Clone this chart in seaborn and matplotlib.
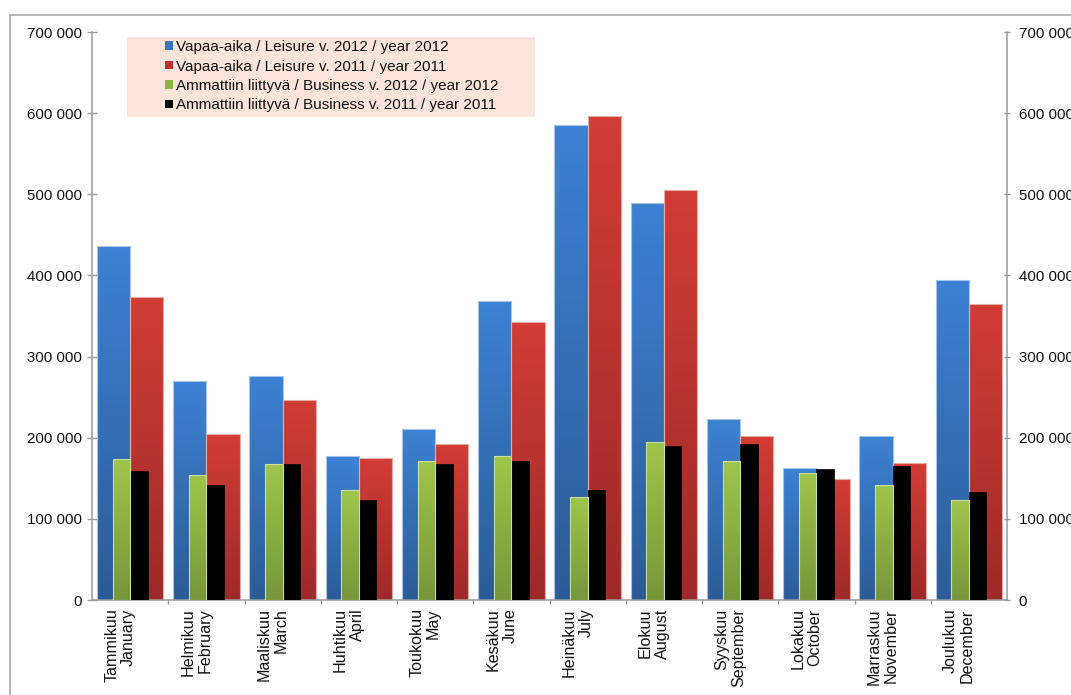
import numpy as np
import pandas as pd
import matplotlib
matplotlib.use("Agg")
import matplotlib.pyplot as plt
import matplotlib.transforms as mtransforms
from matplotlib.colors import LinearSegmentedColormap
from matplotlib.patches import Patch, Rectangle
from matplotlib.ticker import FuncFormatter, FixedLocator
import seaborn as sns

# Monthly travel nights, leisure vs business, 2012 and 2011
months = ["Tammikuu\nJanuary", "Helmikuu\nFebruary", "Maaliskuu\nMarch", "Huhtikuu\nApril",
          "Toukokuu\nMay", "Kesäkuu\nJune", "Heinäkuu\nJuly", "Elokuu\nAugust",
          "Syyskuu\nSeptember", "Lokakuu\nOctober", "Marraskuu\nNovember", "Joulukuu\nDecember"]
leisure_2012 = [436000, 270000, 276000, 177000, 211000, 368000, 585000, 489000, 223000, 163000, 202000, 394000]
leisure_2011 = [373000, 204000, 246000, 175000, 192000, 343000, 596000, 505000, 202000, 149000, 169000, 365000]
business_2012 = [174000, 154000, 167000, 135000, 171000, 177000, 127000, 195000, 171000, 156000, 142000, 123000]
business_2011 = [159000, 142000, 167000, 123000, 167000, 171000, 135000, 190000, 192000, 161000, 165000, 133000]

series_labels = ["Vapaa-aika / Leisure v. 2012 / year 2012",
                 "Vapaa-aika / Leisure v. 2011 / year 2011",
                 "Ammattiin liittyvä / Business v. 2012 / year 2012",
                 "Ammattiin liittyvä / Business v. 2011 / year 2011"]

leisure = pd.DataFrame({
    "month": months * 2,
    "value": leisure_2012 + leisure_2011,
    "series": [series_labels[0]] * 12 + [series_labels[1]] * 12,
})
business = pd.DataFrame({
    "month": months * 2,
    "value": business_2012 + business_2011,
    "series": [series_labels[2]] * 12 + [series_labels[3]] * 12,
})

sns.set_style("white")
plt.rcParams["font.family"] = ["Liberation Sans", "DejaVu Sans"]
plt.rcParams["font.size"] = 10.5

fig = plt.figure(figsize=(10.71, 6.95), dpi=100)
ax = fig.add_axes([92 / 1071, 1 - 600 / 695, 915 / 1071, 568 / 695])
ax2 = ax.twinx()

# colours: (top, bottom, edge)
shades = {
    series_labels[0]: ("#3d82d3", "#2c5c97", "#a9c3e6"),
    series_labels[1]: ("#d23d35", "#9e2a29", "#e6aaa7"),
    series_labels[2]: ("#9fc64b", "#76963a", "#c9dea0"),
    series_labels[3]: ("#000000", "#000000", "#000000"),
}

sns.barplot(data=leisure, x="month", y="value", hue="series", order=months,
            hue_order=series_labels[:2], palette=[shades[s][0] for s in series_labels[:2]],
            width=0.87, ax=ax, legend=False, saturation=1)
sns.barplot(data=business, x="month", y="value", hue="series", order=months,
            hue_order=series_labels[2:], palette=[shades[s][0] for s in series_labels[2:]],
            width=0.46, ax=ax2, legend=False, saturation=1)

grad = np.linspace(0, 1, 256).reshape(-1, 1)


def shade_bars(axis, container, name):
    top, bottom, edge = shades[name]
    cmap = LinearSegmentedColormap.from_list(name, [bottom, top])
    for p in container.patches:
        x0, y0, w, h = p.get_x(), p.get_y(), p.get_width(), p.get_height()
        im = axis.imshow(grad, extent=[x0, x0 + w, y0, y0 + h], origin="lower",
                         aspect="auto", cmap=cmap, zorder=1.5, interpolation="bilinear")
        im.set_clip_path(p)
        p.set_facecolor("none")
        p.set_edgecolor(edge)
        p.set_linewidth(0.8)
        p.set_zorder(2)


shade_bars(ax, ax.containers[0], series_labels[0])
shade_bars(ax, ax.containers[1], series_labels[1])
shade_bars(ax2, ax2.containers[0], series_labels[2])
for p in ax2.containers[1].patches:
    p.set_edgecolor("#000000")
    p.set_linewidth(0.5)

for a in (ax, ax2):
    a.set_xlim(-0.5, 11.5)
    a.set_ylim(0, 700000)
    a.set_xlabel("")
    a.set_ylabel("")
    a.yaxis.set_major_locator(FixedLocator(np.arange(0, 700001, 100000)))
    a.yaxis.set_major_formatter(FuncFormatter(lambda v, _: f"{int(v):,}".replace(",", " ")))
    for s in a.spines.values():
        s.set_color("#9a9a9a")
        s.set_linewidth(1.1)
    a.spines["top"].set_visible(False)

ax.spines["right"].set_visible(False)
ax2.spines["left"].set_visible(False)
ax2.spines["bottom"].set_visible(False)

ax.tick_params(axis="y", left=True, direction="inout", length=6.5, width=1, color="#9a9a9a",
               pad=4, labelsize=10.8, labelcolor="#111111")
ax2.tick_params(axis="y", right=True, direction="inout", length=5, width=1, color="#9a9a9a",
                pad=6, labelsize=10.8, labelcolor="#111111")
ax2.tick_params(axis="x", bottom=False, labelbottom=False)

# month labels, with small ticks between the months
ax.set_xticks(range(12))
ax.set_xticklabels(months, rotation=90, ha="center", va="top", multialignment="right",
                   fontsize=11.6, color="#111111", linespacing=1.15)
ax.tick_params(axis="x", which="major", length=0, pad=6)
ax.set_xticks(np.arange(0.5, 11.5, 1), minor=True)
ax.tick_params(axis="x", which="minor", bottom=True, direction="out", length=3, width=1,
               color="#9a9a9a")
shift = mtransforms.ScaledTranslation(-10 / 100, 0, fig.dpi_scale_trans)
for lbl in ax.get_xticklabels():
    lbl.set_transform(lbl.get_transform() + shift)

# legend on a light peach panel
ax2.add_patch(Rectangle((35 / 915, 1 - 85 / 568), 408 / 915, 80 / 568, transform=ax2.transAxes,
                        facecolor="#fbe4d9", edgecolor="none", zorder=3))
handles = [Patch(facecolor=c, edgecolor="none", label=s)
           for c, s in zip(["#3a74c0", "#c0352f", "#8db543", "#000000"], series_labels)]
leg = ax2.legend(handles=handles, loc="upper left", bbox_to_anchor=(73 / 915, 1 - 8 / 568),
                 frameon=False, fontsize=11, handlelength=0.5, handleheight=0.5,
                 handletextpad=0.25, labelspacing=0.36, borderaxespad=0, borderpad=0,
                 labelcolor="#111111")
leg.set_zorder(4)

# outer chart frame
fig.patches.append(Rectangle((10 / 1071, -0.2), 1.5, 1.2 - 15 / 695, transform=fig.transFigure,
                             facecolor="none", edgecolor="#b0b0b0", linewidth=1.3))

fig.savefig("out.png", dpi=100)
